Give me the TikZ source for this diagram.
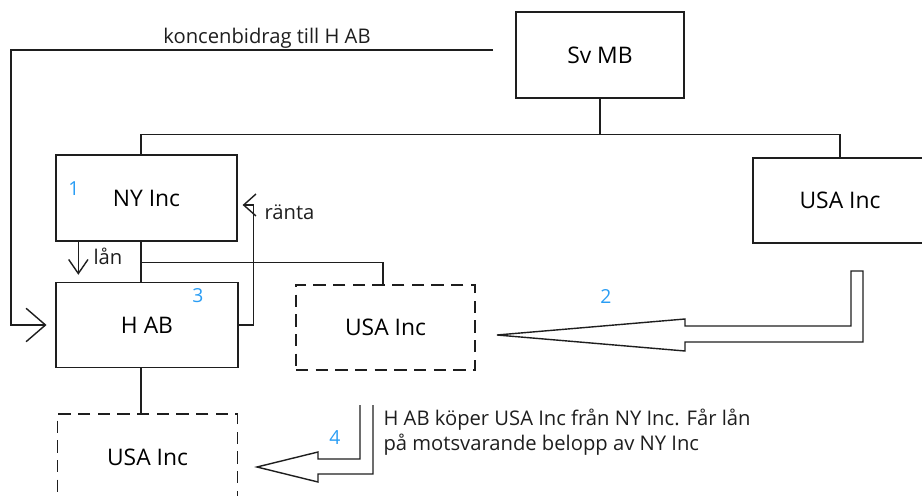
\documentclass[tikz,border=0pt]{standalone}
\usepackage{fontspec}
\setmainfont{Open Sans}
\usetikzlibrary{arrows.meta, calc}
\definecolor{cline}{HTML}{1E1E1E}
\definecolor{cnum}{HTML}{2A9DF4}
\tikzset{
  every picture/.style={line width=0.8pt, draw=cline},
  firm/.style={draw=cline, minimum width=#1, minimum height=1.72cm, inner sep=0pt, font=\fontsize{13}{15}\selectfont},
  firm/.default=3.62cm,
  owned/.style={firm=#1, dash pattern=on 7pt off 4.2pt},
  owned/.default=3.6cm,
  arrow/.style={-{Straight Barb[length=8pt, width=11pt]}, draw=cline},
  label/.style={font=\fontsize{11.5}{14}\selectfont, text=cline, align=left},
  num/.style={font=\fontsize{11}{13}\selectfont, text=cnum},
}

\begin{document}
\begin{tikzpicture}[x=0.02cm, y=-0.02cm]
  \useasboundingbox (0,0) rectangle (922,496);
  \clip (0,0) rectangle (922,496);
  % the group before the deal
  \node[firm=3.36cm] (svmb) at (600,55) {Sv MB};
  \node[firm] (nyinc) at (146.5,198) {NY Inc};
  \node[firm=3.48cm, minimum height=1.7cm] (usainc) at (840,200.5) {USA Inc};
  \node[firm=3.64cm, minimum height=1.7cm] (hab) at (147,325) {H AB};
  % where USA Inc goes
  \node[owned=3.58cm, minimum height=1.7cm] (usamid) at (385.5,327.5) {USA Inc};
  \node[owned] (usabot) at (147.5,457) {USA Inc};
  \coordinate (spine) at (141,0);
  \coordinate (kb) at (493,50);
  % ownership lines
  \draw (svmb.south) -- ++(0,36) coordinate (bus);
  \draw (bus) -| (nyinc.north -| spine);
  \draw (bus) -| (usainc.north);
  \draw (nyinc.south -| spine) -- (hab.north -| spine);
  \draw ($(nyinc.south -| spine)+(0,21)$) -| (usamid.north -| 383,0);
  \draw (hab.south -| spine) -- (usabot.north -| spine);
  % money flows
  \draw[arrow, -{Straight Barb[length=11pt, width=19pt]}, shorten >=5pt] (kb) -- (11,50) |- (hab.west);
  \node[label] (kbtext) at (267,38) {koncenbidrag till H AB};
  \draw[arrow, shorten >=4pt] ($(nyinc.south west)+(23,0)$) -- ($(hab.north west)+(23,0)$);
  \node[label] (lan) at (108,256) {lån};
  \draw[arrow, -{Straight Barb[length=7pt, width=12.5pt]}, shorten >=2.8pt] (hab.east) -- ++(15,0) |- ($(nyinc.east)+(0,7)$);
  \node[label, anchor=west] (ranta) at (258,212) {ränta};
  % numbered steps
  \node[num] (n1) at (74,189) {1};
  \node[num] (n3) at (198,296) {3};
  \node[num] (n2) at (606,297) {2};
  \node[num] (n4) at (335,438) {4};
  % big arrows
  \draw (851,271) -- (863,271) -- (863,342) -- (685,342) -- (685,351) -- (497,335)
    -- (685,319) -- (685,326) -- (851,326) -- cycle;
  \draw (360,405) -- (360,459) -- (318,459) -- (318,452) -- (257,467) -- (318,482)
    -- (318,474) -- (373,474) -- (373,405);
  \node[label, anchor=west] (deal) at (377,432) {H AB köper USA Inc från NY Inc. Får lån\\på motsvarande belopp av NY Inc};
\end{tikzpicture}
\end{document}
